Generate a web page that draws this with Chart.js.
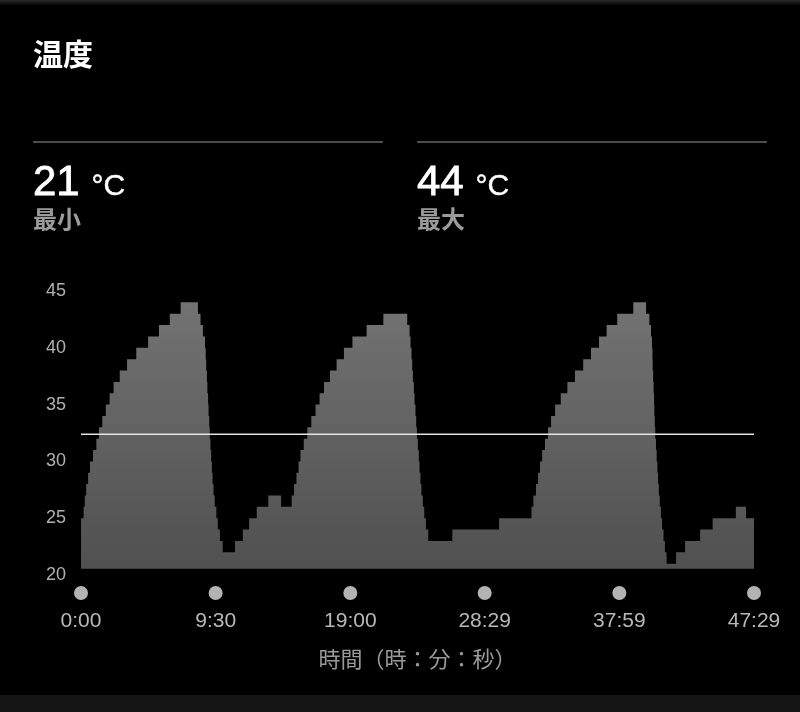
<!DOCTYPE html>
<html>
<head>
<meta charset="utf-8">
<script src="https://cdn.jsdelivr.net/npm/chart.js@4.4.1/dist/chart.umd.min.js"></script>
<style>
  html, body { margin: 0; padding: 0; background: #000; width: 800px; height: 712px; overflow: hidden; }
  #wrap { position: relative; width: 800px; height: 712px; }
  #chartBox { position: absolute; left: 0; top: 0; width: 800px; height: 712px; }
  #topbar { position: absolute; left: 0; top: 0; width: 800px; height: 6px; background: linear-gradient(#2a2a2a, #000); }
  #bottombar { position: absolute; left: 0; top: 695px; width: 800px; height: 17px; background: #141414; }
  .cjk { font-family: "Noto Sans CJK JP", sans-serif; }
  .abs { position: absolute; line-height: 1; white-space: nowrap; }
  #title { left: 33px; top: 37px; font-size: 30px; font-weight: 700; color: #fff; }
  .rule { position: absolute; top: 141px; height: 2px; background: #4a4a4a; }
  .num { font-family: "Liberation Sans", Arial, sans-serif; font-size: 42px; color: #fff; top: 160px; -webkit-text-stroke: 0.8px #fff; }
  .unit { font-size: 30px; -webkit-text-stroke: 0.4px #fff; }
  .sub { font-size: 24px; font-weight: 700; color: #9b9b9b; top: 206px; }
</style>
</head>
<body>
<div id="wrap">
  <div id="topbar"></div>
  <div id="chartBox"><canvas id="tempChart"></canvas></div>
  <div id="title" class="abs cjk">温度</div>
  <div class="rule" style="left:33px;width:350px;"></div>
  <div class="rule" style="left:417px;width:350px;"></div>
  <div class="abs num" style="left:33px;"><span id="min-value"></span> <span class="unit">°C</span></div>
  <div class="abs sub cjk" style="left:33px;">最小</div>
  <div class="abs num" style="left:417px;"><span id="max-value"></span> <span class="unit">°C</span></div>
  <div class="abs sub cjk" style="left:417px;">最大</div>
  <div id="bottombar"></div>
</div>
<script>
// время в секундах от начала, температура держится до следующей точки
const times = [
  0, 11, 16, 22, 30, 38, 51, 65, 76, 90, 105, 121, 138, 164, 195, 234, 284, 330, 376, 422,
  495, 506, 516, 525, 528, 530, 533, 535, 538, 540, 543, 545, 548, 551, 554, 557, 561, 566, 573, 579, 588, 600,
  652, 685, 712, 744, 793, 847,
  892, 902, 912, 921, 929, 943, 958, 975, 993, 1010, 1029, 1054, 1082, 1113, 1149, 1209, 1280,
  1381, 1391, 1395, 1399, 1402, 1405, 1409, 1412, 1416, 1419, 1422, 1426, 1430, 1433, 1437, 1441, 1447, 1453, 1460, 1470,
  1572, 1770,
  1907, 1915, 1926, 1935, 1943, 1952, 1964, 1977, 1990, 2007, 2031, 2059, 2091, 2126, 2159, 2193, 2225, 2270, 2338,
  2392, 2406, 2413, 2417, 2419, 2420, 2422, 2424, 2426, 2427, 2429, 2431, 2434, 2437, 2440, 2443, 2446, 2450, 2455, 2460, 2466, 2472, 2479,
  2519, 2557, 2621, 2674, 2772, 2815, 2849
];
const temps = [
  25, 26, 27, 28, 29, 30, 31, 32, 33, 34, 35, 36, 37, 38, 39, 40, 41, 42, 43, 44,
  43, 42, 41, 40, 39, 38, 37, 36, 35, 34, 33, 32, 31, 30, 29, 28, 27, 26, 25, 24, 23, 22,
  23, 24, 25, 26, 27, 26,
  27, 28, 29, 30, 31, 32, 33, 34, 35, 36, 37, 38, 39, 40, 41, 42, 43,
  42, 41, 40, 39, 38, 37, 36, 35, 34, 33, 32, 31, 30, 29, 28, 27, 26, 25, 24, 23,
  24, 25,
  26, 27, 28, 29, 30, 31, 32, 33, 34, 35, 36, 37, 38, 39, 40, 41, 42, 43, 44,
  43, 42, 41, 40, 39, 38, 37, 36, 35, 34, 33, 32, 31, 30, 29, 28, 27, 26, 25, 24, 23, 22, 21,
  22, 23, 24, 25, 26, 25, 25
];
const avgTemp = 32.4;
const minTemp = 21;
const maxTemp = 44;

const xTickValues = [0, 570, 1140, 1709, 2279, 2849];
const xTickLabels = ['0:00', '9:30', '19:00', '28:29', '37:59', '47:29'];
const yTickValues = [20, 25, 30, 35, 40, 45];

document.getElementById('min-value').textContent = minTemp;
document.getElementById('max-value').textContent = maxTemp;

// серые кружки над подписями оси X
const tickDots = {
  id: 'tickDots',
  afterDraw(chart) {
    const xs = chart.scales.x;
    const ctx = chart.ctx;
    ctx.save();
    ctx.fillStyle = '#b3b3b3';
    xs.ticks.forEach(t => {
      const px = xs.getPixelForValue(t.value);
      ctx.beginPath();
      ctx.arc(px, xs.top + 18, 7, 0, Math.PI * 2);
      ctx.fill();
    });
    ctx.restore();
  }
};

const ctx = document.getElementById('tempChart').getContext('2d');
new Chart(ctx, {
  type: 'line',
  data: {
    datasets: [
      {
        label: '温度',
        data: times.map((t, i) => ({ x: t, y: temps[i] })),
        stepped: 'before',
        borderWidth: 0,
        pointRadius: 0,
        fill: { value: 20.55 },
        backgroundColor: function(context) {
          const { ctx, chartArea } = context.chart;
          if (!chartArea) return '#666';
          const g = ctx.createLinearGradient(0, chartArea.top, 0, chartArea.bottom);
          g.addColorStop(0, '#747474');
          g.addColorStop(1, '#4f4f4f');
          return g;
        },
        order: 2
      },
      {
        label: '平均',
        data: [{ x: xTickValues[0], y: avgTemp }, { x: xTickValues[xTickValues.length - 1], y: avgTemp }],
        borderColor: '#e2e2e2',
        borderWidth: 1.5,
        pointRadius: 0,
        fill: false,
        order: 1
      }
    ]
  },
  options: {
    responsive: true,
    maintainAspectRatio: false,
    animation: false,
    layout: {
      padding: { top: 291, right: 46, left: 0, bottom: 0 }
    },
    plugins: {
      legend: { display: false },
      tooltip: { enabled: false }
    },
    scales: {
      x: {
        type: 'linear',
        min: 0,
        max: 2849,
        grid: { display: false, drawTicks: false },
        border: { display: false },
        afterBuildTicks: function(scale) {
          scale.ticks = xTickValues.map(v => ({ value: v }));
        },
        afterFit: function(scale) {
          scale.height = 137;
          scale.paddingLeft = 0;
          scale.paddingRight = 0;
        },
        ticks: {
          color: '#b8b8b8',
          padding: 34,
          maxRotation: 0,
          autoSkip: false,
          font: { family: 'Liberation Sans', size: 21 },
          callback: function(value, index) {
            return xTickLabels[index];
          }
        },
        title: {
          display: true,
          text: '時間（時：分：秒）',
          color: '#9a9a9a',
          padding: { top: 0, bottom: 40 },
          font: { family: 'Noto Sans CJK JP', size: 22 }
        }
      },
      y: {
        type: 'linear',
        min: 20,
        max: 45,
        grid: { display: false, drawTicks: false },
        border: { display: false },
        afterBuildTicks: function(scale) {
          scale.ticks = yTickValues.map(v => ({ value: v }));
        },
        afterFit: function(scale) {
          scale.width = 81;
        },
        ticks: {
          color: '#b0b0b0',
          padding: 15,
          font: { family: 'Liberation Sans', size: 18 }
        }
      }
    }
  },
  plugins: [tickDots]
});
</script>
</body>
</html>
